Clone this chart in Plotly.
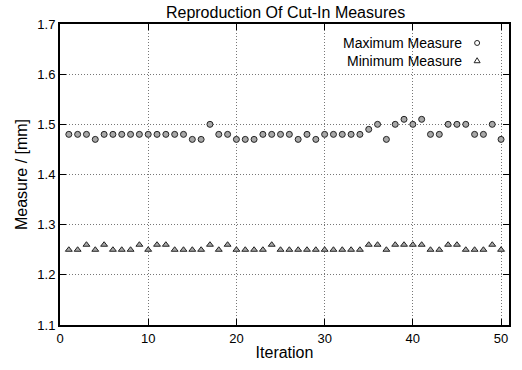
import plotly.graph_objects as go

iterations = list(range(1, 51))
max_measure = [1.48, 1.48, 1.48, 1.47, 1.48, 1.48, 1.48, 1.48, 1.48, 1.48,
               1.48, 1.48, 1.48, 1.48, 1.47, 1.47, 1.50, 1.48, 1.48, 1.47,
               1.47, 1.47, 1.48, 1.48, 1.48, 1.48, 1.47, 1.48, 1.47, 1.48,
               1.48, 1.48, 1.48, 1.48, 1.49, 1.50, 1.47, 1.50, 1.51, 1.50,
               1.51, 1.48, 1.48, 1.50, 1.50, 1.50, 1.48, 1.48, 1.50, 1.47]
min_measure = [1.25, 1.25, 1.26, 1.25, 1.26, 1.25, 1.25, 1.25, 1.26, 1.25,
               1.26, 1.26, 1.25, 1.25, 1.25, 1.25, 1.26, 1.25, 1.26, 1.25,
               1.25, 1.25, 1.25, 1.26, 1.25, 1.25, 1.25, 1.25, 1.25, 1.25,
               1.25, 1.25, 1.25, 1.25, 1.26, 1.26, 1.25, 1.26, 1.26, 1.26,
               1.26, 1.25, 1.25, 1.26, 1.26, 1.25, 1.25, 1.25, 1.26, 1.25]
x_ticks = [0, 10, 20, 30, 40, 50]
y_ticks = [1.1, 1.2, 1.3, 1.4, 1.5, 1.6, 1.7]

FONT = "Liberation Sans, Arial, sans-serif"
fill = "#a8a8a8"
edge = "#222222"

fig = go.Figure()
fig.add_trace(go.Scatter(x=iterations, y=max_measure, mode="markers",
                         name="Maximum Measure",
                         marker=dict(symbol="circle", size=6, color=fill,
                                     line=dict(color=edge, width=1))))
fig.add_trace(go.Scatter(x=iterations, y=min_measure, mode="markers",
                         name="Minimum Measure",
                         marker=dict(symbol="triangle-up", size=6, color=fill,
                                     line=dict(color=edge, width=1))))

axis_common = dict(showline=True, linecolor="black", linewidth=2, mirror="ticks",
                   ticks="inside", ticklen=6, tickcolor="black", tickwidth=1,
                   showgrid=True, gridcolor="#777777", griddash="1px,2px", gridwidth=1,
                   zeroline=False, tickfont=dict(family=FONT, size=13, color="black"))

fig.update_layout(
    width=522, height=370,
    margin=dict(l=60, r=11, t=24, b=43),
    paper_bgcolor="white", plot_bgcolor="white",
    showlegend=False,
    title=dict(text="Reproduction Of Cut-In Measures", x=0.547, xanchor="center",
               y=0.967, yanchor="middle",
               font=dict(family=FONT, size=16, color="black")),
    xaxis=dict(range=[0, 50.9], tickvals=x_ticks, **axis_common,
               title=dict(text="Iteration", standoff=2,
                          font=dict(family=FONT, size=16, color="black"))),
    yaxis=dict(range=[1.1, 1.7], tickvals=y_ticks, tickformat=".1f", **axis_common,
               title=dict(text="Measure / [mm]", standoff=6,
                          font=dict(family=FONT, size=16, color="black"))),
)

# legend (text on the left, symbol on the right, like the reference)
leg = [("Maximum Measure", 0.937, "circle"), ("Minimum Measure", 0.878, "tri")]
for text, yy, kind in leg:
    fig.add_annotation(text=text, xref="paper", yref="paper", x=0.900, y=yy,
                       xanchor="right", yanchor="middle", showarrow=False,
                       font=dict(family=FONT, size=14, color="black"))
    if kind == "circle":
        fig.add_shape(type="circle", xref="paper", yref="paper",
                      xsizemode="pixel", ysizemode="pixel",
                      xanchor=0.929, yanchor=yy, x0=-2.5, x1=2.5, y0=-2.5, y1=2.5,
                      line=dict(color=edge, width=1), fillcolor="white")
    else:
        fig.add_shape(type="path", xref="paper", yref="paper",
                      xsizemode="pixel", ysizemode="pixel",
                      xanchor=0.929, yanchor=yy, path="M -3,-2 L 3,-2 L 0,3 Z",
                      line=dict(color=edge, width=1), fillcolor="white")

fig.write_html("out.html")
